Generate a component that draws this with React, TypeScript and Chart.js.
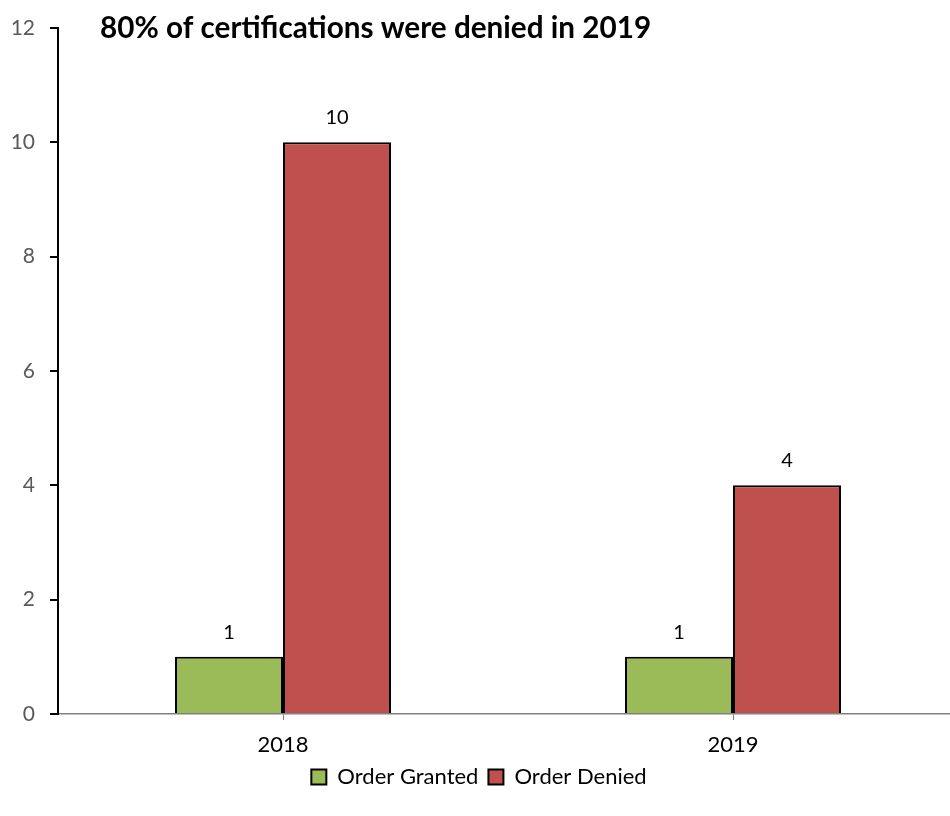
import React, { useEffect, useRef } from "react";
import { Chart, registerables } from "chart.js";

Chart.register(...registerables);

const categories = ["2018", "2019"];
const orderGranted = [1, 1];
const orderDenied = [10, 4];
const yTicks = [0, 2, 4, 6, 8, 10, 12];
const titleText = "80% of certifications were denied in 2019";

const FONT = "Lato, 'Open Sans', sans-serif";

export default function App() {
  const ref = useRef<HTMLCanvasElement | null>(null);

  useEffect(() => {
    document.body.style.margin = "0";
    const canvas = ref.current!;
    const titlePlugin = {
      id: "customTitle",
      afterDraw(chart: any) {
        const ctx = chart.ctx;
        ctx.save();
        ctx.font = `bold 29.7px ${FONT}`;
        ctx.fillStyle = "#000000";
        ctx.textAlign = "left";
        ctx.textBaseline = "middle";
        ctx.fillText(titleText, chart.chartArea.left + 42, chart.chartArea.top);
        ctx.restore();
      },
    };
    const labelPlugin = {
      id: "barLabels",
      afterDatasetsDraw(chart: any) {
        const ctx = chart.ctx;
        ctx.save();
        ctx.font = `20px ${FONT}`;
        ctx.fillStyle = "#000000";
        ctx.textAlign = "center";
        ctx.textBaseline = "alphabetic";
        chart.data.datasets.forEach((ds: any, i: number) => {
          const meta = chart.getDatasetMeta(i);
          meta.data.forEach((bar: any, j: number) => {
            ctx.fillText(String(ds.data[j]), bar.x, bar.y - 18);
          });
        });
        ctx.restore();
      },
    };
    const chart = new Chart(canvas, {
      type: "bar",
      data: {
        labels: categories,
        datasets: [
          {
            label: "Order Granted",
            data: orderGranted,
            backgroundColor: "#9BBB59",
            borderColor: "#000000",
            borderWidth: 2,
            categoryPercentage: 0.48,
            barPercentage: 1,
          },
          {
            label: "Order Denied",
            data: orderDenied,
            backgroundColor: "#C0504D",
            borderColor: "#000000",
            borderWidth: 2,
            categoryPercentage: 0.48,
            barPercentage: 1,
          },
        ],
      },
      options: {
        responsive: false,
        animation: false,
        devicePixelRatio: 1,
        layout: { padding: { left: 0, right: 0, top: 28, bottom: 18 } },
        plugins: {
          title: { display: false },
          tooltip: { enabled: false },
          legend: {
            position: "bottom",
            labels: {
              boxWidth: 15,
              boxHeight: 15,
              color: "#000000",
              font: { family: FONT, size: 22 },
              padding: 10,
            },
          },
        },
        scales: {
          x: {
            grid: {
              offset: false,
              drawOnChartArea: false,
              drawTicks: true,
              tickLength: 6,
              color: "#808080",
              lineWidth: 1,
            },
            border: { display: true, color: "#808080", width: 1.5 },
            ticks: {
              color: "#000000",
              font: { family: FONT, size: 22 },
              padding: 12,
            },
            afterFit(scale: any) {
              scale.height = 42;
            },
          },
          y: {
            min: 0,
            max: 12,
            afterBuildTicks(scale: any) {
              scale.ticks = yTicks.map((v) => ({ value: v }));
            },
            grid: {
              drawOnChartArea: false,
              drawTicks: true,
              tickLength: 8,
              color: "#000000",
              lineWidth: 2,
            },
            border: { display: true, color: "#000000", width: 2 },
            ticks: {
              color: "#595959",
              font: { family: FONT, size: 21 },
              padding: 15,
            },
            afterFit(scale: any) {
              scale.width = 58;
            },
          },
        },
      },
      plugins: [titlePlugin, labelPlugin],
    } as any);
    return () => chart.destroy();
  }, []);

  return (
    <div style={{ width: 950, height: 816, overflow: "hidden", position: "relative" }}>
      <canvas
        ref={ref}
        width={958}
        height={816}
        style={{ display: "block", width: 958, height: 816 }}
      />
    </div>
  );
}
